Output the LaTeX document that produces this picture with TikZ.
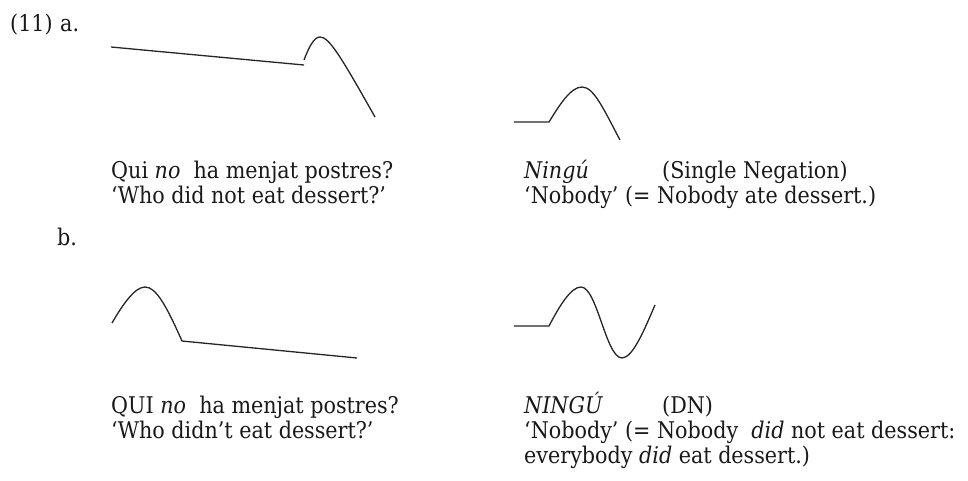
\documentclass[tikz,border=0pt]{standalone}
\usepackage{fontspec}
\setmainfont{DejaVu Serif Condensed}
\usepackage{tikz}

\tikzset{
  ex/.style={anchor=base west,inner sep=0pt,text=black!90,font=\fontsize{23}{25}\selectfont},
  contour/.style={draw=black!85,line width=1.3pt,line join=round}
}

\begin{document}
\begin{tikzpicture}[x=1pt,y=-1pt]
\useasboundingbox (0,0) rectangle (968,480);
% labels
\node[ex] (num) at (10,31) {(11)};
\node[ex] (la) at (60,31) {a.};
\node[ex] (lb) at (57,245) {b.};
% contours, (a)
\path[contour] (111,47) -- (304,65);
\path[contour] (304,60) .. controls (309,47) and (314,37) .. (320,37)
  .. controls (329,37) and (340,55) .. (375,117);
\path[contour] (514,122) -- (549,122) .. controls (560,104) and (571,87) .. (582,87)
  .. controls (594,87) and (604,110) .. (620,140);
% contours, (b)
\path[contour] (112,323) .. controls (123,304) and (135,287) .. (145,287)
  .. controls (156,287) and (166,305) .. (182,341) -- (357,358);
\path[contour] (514,326) -- (549,326) .. controls (560,305) and (571,287) .. (581,287)
  .. controls (597,287) and (606,358) .. (622,358)
  .. controls (633,358) and (645,328) .. (655,305);
% texts, (a)
\node[ex] (qa) at (111,178) {Qui \textit{no}\ \ ha menjat postres?};
\node[ex] (ga) at (111,203) {`Who did not eat dessert?'};
\node[ex] (na) at (524,178) {\textit{Ningú}};
\node[ex] (sa) at (662,178) {(Single Negation)};
\node[ex] (ta) at (524,203) {`Nobody' (= Nobody ate dessert.)};
% texts, (b)
\node[ex] (qb) at (111,413) {QUI \textit{no}\ \ ha menjat postres?};
\node[ex] (gb) at (111,438) {`Who didn't eat dessert?'};
\node[ex] (nb) at (524,413) {\textit{NINGÚ}};
\node[ex] (sb) at (662,413) {(DN)};
\node[ex] (tb) at (524,438) {`Nobody' (= Nobody\ \ \textit{did} not eat dessert:};
\node[ex] (ub) at (524,463) {everybody \textit{did} eat dessert.)};
\end{tikzpicture}
\end{document}
